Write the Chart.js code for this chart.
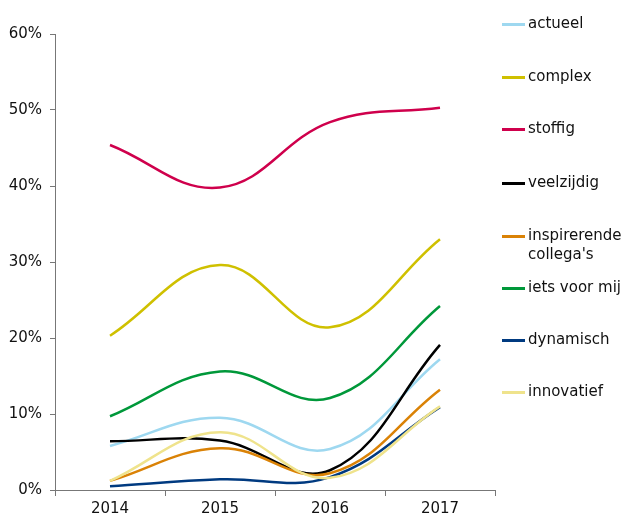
<!DOCTYPE html>
<html>
<head>
<meta charset="utf-8">
<script src="https://cdn.jsdelivr.net/npm/chart.js@4"></script>
<style>
  body { margin: 0; background: #fff; }
  #wrap { position: relative; width: 628px; height: 521px; }
  #legend { position: absolute; left: 0; top: 0; font-family: "DejaVu Sans", sans-serif; font-size: 15px; color: #111; }
  .item { position: absolute; left: 502px; white-space: nowrap; line-height: 19px; }
  .item span.sw { position: absolute; left: 0; top: 9px; width: 23px; height: 3px; }
  .item span.tx { position: absolute; left: 26px; top: 0; }
</style>
</head>
<body>
<div id="wrap">
  <canvas id="myChart" width="628" height="521"></canvas>
  <div id="legend"></div>
</div>
<script>
const years = ['2014', '2015', '2016', '2017'];
const yTicks = [0, 10, 20, 30, 40, 50, 60];

const seriesNames = ['actueel', 'complex', 'stoffig', 'veelzijdig', ['inspirerende', "collega's"], 'iets voor mij', 'dynamisch', 'innovatief'];
const seriesColors = ['#9ed8f0', '#cfc000', '#cf004c', '#000000', '#da8206', '#00983a', '#003a80', '#efe38c'];

const actueel = [5.8, 9.5, 5.4, 17.2];
const complex = [20.3, 29.6, 21.4, 33.0];
const stoffig = [45.4, 39.8, 48.4, 50.3];
const veelzijdig = [6.4, 6.5, 2.6, 19.1];
const inspirerende = [1.2, 5.5, 2.2, 13.2];
const ietsVoorMij = [9.7, 15.6, 12.1, 24.2];
const dynamisch = [0.5, 1.4, 1.7, 10.9];
const innovatief = [1.2, 7.6, 1.6, 11.0];

const allValues = [actueel, complex, stoffig, veelzijdig, inspirerende, ietsVoorMij, dynamisch, innovatief];

const ctx = document.getElementById('myChart').getContext('2d');
const font = { family: '"DejaVu Sans", sans-serif', size: 15 };

const myLineChart = new Chart(ctx, {
    type: 'line',
    data: {
        labels: years,
        datasets: allValues.map((vals, i) => ({
            label: Array.isArray(seriesNames[i]) ? seriesNames[i].join(' ') : seriesNames[i],
            data: vals,
            borderColor: seriesColors[i],
            backgroundColor: seriesColors[i],
            borderWidth: 2.5,
            pointRadius: 0,
            tension: 0.4,
            fill: false,
            order: allValues.length - i // later series on top, like the original
        }))
    },
    options: {
        responsive: false,
        animation: false,
        layout: { padding: { top: 34, right: 133, left: 0, bottom: 0 } },
        plugins: { legend: { display: false }, tooltip: { enabled: false } },
        scales: {
            x: {
                offset: true,
                grid: { offset: true, drawOnChartArea: false, tickLength: 6, color: '#777' },
                border: { color: '#777', width: 1 },
                ticks: { color: '#111', font: font, padding: 4 },
                afterFit: s => { s.height = 31; }
            },
            y: {
                min: 0,
                max: 60,
                grid: { drawOnChartArea: false, tickLength: 5, color: '#777' },
                border: { color: '#777', width: 1 },
                afterBuildTicks: s => { s.ticks = yTicks.map(v => ({ value: v })); },
                ticks: { color: '#111', font: font, padding: 8, callback: v => v + '%' },
                afterFit: s => { s.width = 55; }
            }
        }
    }
});

// legend drawn as html so the two-line label keeps the even spacing
const legendTops = [24, 77, 129, 183, 236, 288, 340, 392];
const legend = document.getElementById('legend');
seriesNames.forEach((name, i) => {
    const item = document.createElement('div');
    item.className = 'item';
    item.style.top = (legendTops[i] - 10) + 'px';
    const sw = document.createElement('span');
    sw.className = 'sw';
    sw.style.background = seriesColors[i];
    const tx = document.createElement('span');
    tx.className = 'tx';
    tx.innerHTML = Array.isArray(name) ? name.join('<br>') : name;
    item.appendChild(sw);
    item.appendChild(tx);
    legend.appendChild(item);
});
</script>
</body>
</html>
